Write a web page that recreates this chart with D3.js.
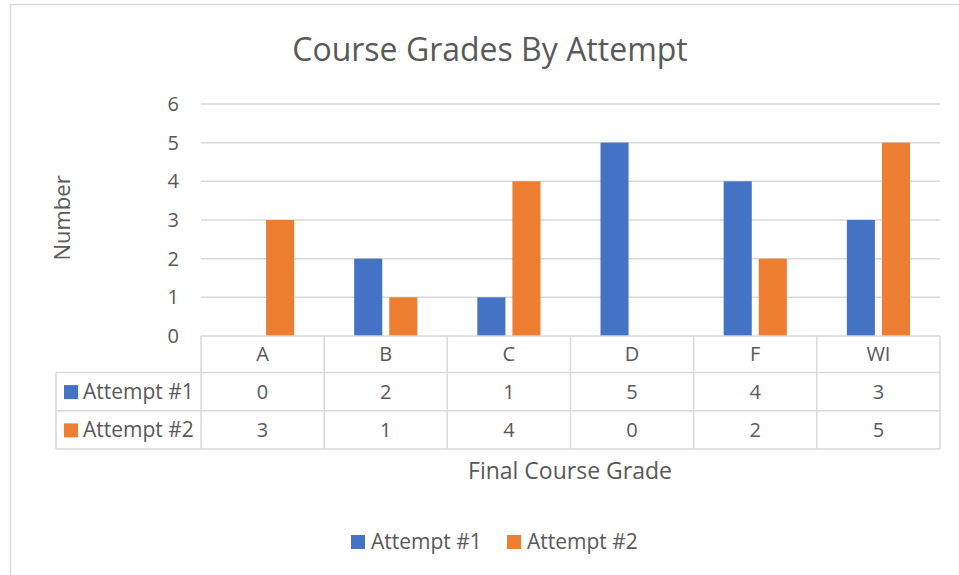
<!DOCTYPE html>
<html>
<head>
<meta charset="utf-8">
<script src="https://cdn.jsdelivr.net/npm/d3@7"></script>
<style>
  body { margin: 0; background: #fff; }
  text { font-family: 'Open Sans', sans-serif; fill: #595959; }
</style>
</head>
<body>
<div id="chart"></div>
<script>
const categories = ['A', 'B', 'C', 'D', 'F', 'WI']
const seriesNames = ['Attempt #1', 'Attempt #2']
const attempt1 = [0, 2, 1, 5, 4, 3]
const attempt2 = [3, 1, 4, 0, 2, 5]
const yTicks = [0, 1, 2, 3, 4, 5, 6]
const colors = ['#4472C4', '#ED7D31']

const series = [attempt1, attempt2]

const width = 959
const height = 575
const plot = { left: 201, right: 940, top: 104, bottom: 336 }

const svg = d3.select('#chart')
  .append('svg')
  .attr('width', width)
  .attr('height', height)

// chart frame
svg.append('rect')
  .attr('x', 10.5).attr('y', 4.5)
  .attr('width', 960).attr('height', 600)
  .attr('fill', 'none')
  .attr('stroke', '#d9d9d9')
  .attr('stroke-width', 1.5)

svg.append('text')
  .attr('x', 490).attr('y', 61)
  .attr('text-anchor', 'middle')
  .attr('font-size', 32)
  .text('Course Grades By Attempt')

const x0 = d3.scaleBand()
  .domain(categories)
  .range([plot.left, plot.right])

const x1 = d3.scaleBand()
  .domain(d3.range(seriesNames.length))
  .range([30, x0.bandwidth() - 30])
  .paddingInner(0.2)

const y = d3.scaleLinear()
  .domain([0, 6])
  .range([plot.bottom, plot.top])

// gridlines
svg.append('g')
  .selectAll('line')
  .data(yTicks.slice(1))
  .enter()
  .append('line')
  .attr('x1', plot.left).attr('x2', plot.right)
  .attr('y1', d => y(d)).attr('y2', d => y(d))
  .attr('stroke', '#d9d9d9')
  .attr('stroke-width', 1.5)

// y tick labels
svg.append('g')
  .selectAll('text')
  .data(yTicks)
  .enter()
  .append('text')
  .attr('x', 179)
  .attr('y', d => y(d) + 7)
  .attr('text-anchor', 'end')
  .attr('font-size', 20)
  .text(d => d)

svg.append('text')
  .attr('transform', 'translate(70,218) rotate(-90)')
  .attr('text-anchor', 'middle')
  .attr('font-size', 22)
  .text('Number')

// bars
const groups = svg.append('g')
  .selectAll('g')
  .data(categories)
  .enter()
  .append('g')
  .attr('transform', d => `translate(${x0(d)},0)`)

groups.selectAll('rect')
  .data((d, i) => series.map((s, k) => ({ k: k, v: s[i] })))
  .enter()
  .append('rect')
  .attr('x', d => x1(d.k))
  .attr('width', x1.bandwidth())
  .attr('y', d => y(d.v))
  .attr('height', d => y(0) - y(d.v))
  .attr('fill', d => colors[d.k])

// data table
const rowTop = [336, 372.5, 410.7, 449]
const tableLeft = 56
const grid = svg.append('g')
  .attr('stroke', '#d9d9d9')
  .attr('stroke-width', 1.5)

grid.selectAll('.hline')
  .data(rowTop)
  .enter()
  .append('line')
  .attr('x1', (d, i) => i === 0 ? plot.left : tableLeft)
  .attr('x2', plot.right)
  .attr('y1', d => d).attr('y2', d => d)

const vx = categories.map(c => x0(c)).concat([plot.right])
grid.selectAll('.vline')
  .data(vx)
  .enter()
  .append('line')
  .attr('x1', d => d).attr('x2', d => d)
  .attr('y1', rowTop[0]).attr('y2', rowTop[3])

grid.append('line')
  .attr('x1', tableLeft).attr('x2', tableLeft)
  .attr('y1', rowTop[1]).attr('y2', rowTop[3])

svg.append('g')
  .selectAll('text')
  .data(categories)
  .enter()
  .append('text')
  .attr('x', d => x0(d) + x0.bandwidth() / 2)
  .attr('y', (rowTop[0] + rowTop[1]) / 2 + 7)
  .attr('text-anchor', 'middle')
  .attr('font-size', 20)
  .text(d => d)

series.forEach((s, k) => {
  const cy = (rowTop[k + 1] + rowTop[k + 2]) / 2
  svg.append('rect')
    .attr('x', 64).attr('y', cy - 6.5)
    .attr('width', 14).attr('height', 14)
    .attr('fill', colors[k])
  svg.append('text')
    .attr('x', 83).attr('y', cy + 7)
    .attr('font-size', 21)
    .text(seriesNames[k])
  svg.append('g')
    .selectAll('text')
    .data(s)
    .enter()
    .append('text')
    .attr('x', (d, i) => x0(categories[i]) + x0.bandwidth() / 2)
    .attr('y', cy + 7)
    .attr('text-anchor', 'middle')
    .attr('font-size', 20)
    .text(d => d)
})

svg.append('text')
  .attr('x', 570).attr('y', 479)
  .attr('text-anchor', 'middle')
  .attr('font-size', 23)
  .text('Final Course Grade')

// legend
const legendX = [351, 507]
seriesNames.forEach((name, k) => {
  svg.append('rect')
    .attr('x', legendX[k]).attr('y', 535)
    .attr('width', 14).attr('height', 14)
    .attr('fill', colors[k])
  svg.append('text')
    .attr('x', legendX[k] + 20).attr('y', 549)
    .attr('font-size', 21)
    .text(name)
})
</script>
</body>
</html>
